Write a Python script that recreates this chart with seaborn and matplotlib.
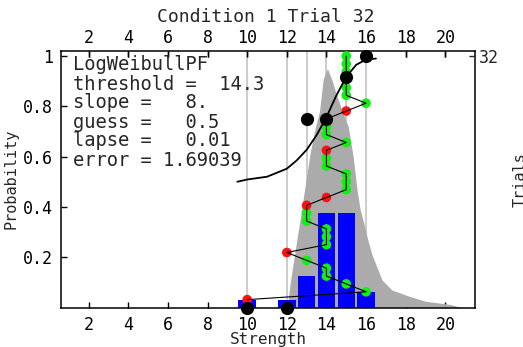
import numpy as np
import pandas as pd
import matplotlib
matplotlib.use("Agg")
import matplotlib.pyplot as plt
import seaborn as sns

# ---------------- data ----------------
title = "Condition 1 Trial 32"
n_trials = 32

# stimulus level and response for each trial (1 = correct)
trial_level = [10, 16, 15, 14, 14, 13, 12, 14, 14, 14, 13, 13, 13, 14, 15, 15,
               15, 14, 14, 14, 15, 14, 14, 14, 15, 16, 15, 15, 15, 15, 15, 15]
trial_correct = [0, 1, 1, 1, 1, 1, 0, 1, 1, 1, 1, 1, 0, 0, 1, 1,
                 1, 1, 1, 0, 1, 1, 1, 0, 0, 1, 1, 1, 1, 1, 1, 1]

# summary per tested level
levels = [10, 12, 13, 14, 15, 16]
counts = [1, 1, 4, 12, 12, 2]
prop_correct = [0.0, 0.0, 0.75, 0.75, 0.917, 1.0]

# fitted LogWeibull curve
fit_x = [9.5, 10, 11, 12, 12.5, 13, 13.5, 14, 14.5, 15, 15.5, 16, 16.5]
fit_y = [0.50, 0.509, 0.52, 0.552, 0.585, 0.627, 0.685, 0.757, 0.843, 0.917, 0.965, 0.986, 0.99]

# posterior over threshold (grey area)
post_x = [12.0, 12.07, 12.17, 12.42, 12.68, 12.93, 13.18, 13.45, 13.65, 13.84, 14.05,
          14.3, 14.45, 14.8, 15.1, 15.35, 15.54, 15.7, 15.87, 16.1, 16.3, 16.55,
          16.8, 17.3, 18.2, 19.0, 20.25, 20.8]
post_y = [0.0, 0.031, 0.097, 0.226, 0.355, 0.486, 0.615, 0.72, 0.78, 0.91, 0.95,
          0.90, 0.86, 0.78, 0.72, 0.60, 0.47, 0.39, 0.34, 0.265, 0.21, 0.16,
          0.11, 0.07, 0.044, 0.025, 0.012, 0.0]

vlines_x = [10, 12, 13, 14, 15, 16]

info_lines = ["LogWeibullPF", "threshold =  14.3", "slope =   8.",
              "guess =   0.5", "lapse =   0.01", "error = 1.69039"]

x_ticks = [2, 4, 6, 8, 10, 12, 14, 16, 18, 20]
y_ticks = [0.2, 0.4, 0.6, 0.8, 1.0]
y_ticklabels = ["0.2", "0.4", "0.6", "0.8", "1"]

# ---------------- style ----------------
sns.set_theme(style="ticks")
FONT = ["DejaVu Sans Mono", "DejaVu Sans"]
plt.rcParams["font.family"] = FONT
plt.rcParams["axes.linewidth"] = 1.1

W, H = 523, 347
fig = plt.figure(figsize=(W / 100, H / 100), dpi=100)
L, R, T, B = 61, 475, 51, 307.5
ax = fig.add_axes([L / W, 1 - B / H, (R - L) / W, (B - T) / H])
ax.set_xlim(0.6, 21.5)
ax.set_ylim(0, 1.02)

# vertical guide lines
for xv in vlines_x:
    ax.axvline(xv, color="#c4c4c4", lw=1.2, zorder=0.5)

# posterior
ax.fill_between(post_x, post_y, 0, color="#ababab", lw=0, zorder=1)

# trial count bars
bars = pd.DataFrame({"level": levels, "frac": np.array(counts) / n_trials})
sns.barplot(data=bars, x="level", y="frac", native_scale=True, width=0.88,
            color="#0000ff", saturation=1, linewidth=0, ax=ax, zorder=2)

# staircase trace
trials = pd.DataFrame({
    "level": trial_level,
    "y": np.arange(1, n_trials + 1) / n_trials,
    "resp": ["correct" if c else "wrong" for c in trial_correct],
})
sns.scatterplot(data=trials, x="level", y="y", hue="resp",
                palette={"correct": "#11f011", "wrong": "#ff1010"},
                s=48, linewidth=0, ax=ax, zorder=3, legend=False, clip_on=False)
ax.plot(trials["level"], trials["y"], color="black", lw=0.8, zorder=4)

# fitted curve
sns.lineplot(x=fit_x, y=fit_y, color="black", lw=1.3, ax=ax, zorder=4,
             estimator=None, sort=False)

# proportion correct
sns.scatterplot(x=levels, y=prop_correct, color="black", s=90, linewidth=0,
                ax=ax, zorder=5, clip_on=False)

ax.set_xlabel("")
ax.set_ylabel("")
ax.set_xticks(x_ticks)
ax.set_xticklabels([str(v) for v in x_ticks])
ax.set_yticks(y_ticks)
ax.set_yticklabels(y_ticklabels)
ax.tick_params(axis="both", which="both", direction="in", length=4, width=1,
               labelsize=12, top=True, labeltop=False, right=False, pad=6,
               colors="black")
for s in ax.spines.values():
    s.set_color("black")
    s.set_visible(True)

# top axis with its own label spacing
secx = ax.secondary_xaxis("top")
secx.set_xticks(x_ticks)
secx.set_xticklabels([str(v) for v in x_ticks])
secx.tick_params(direction="in", length=4, width=1, labelsize=12, pad=3,
                 colors="black")
secx.spines["top"].set_visible(False)

ax2 = ax.twinx()
ax2.set_ylim(0, n_trials * 1.02)
ax2.set_yticks([n_trials])
ax2.set_yticklabels([str(n_trials)])
ax2.tick_params(axis="y", direction="in", length=4, width=1, labelsize=12, pad=3)
for s in ax2.spines.values():
    s.set_visible(False)

# info text
for i, line in enumerate(info_lines):
    yp = 65 + 19 * i
    ax.text((73 - L) / (R - L), (B - yp) / (B - T), line, transform=ax.transAxes,
            fontsize=13.5, va="center", ha="left", zorder=6)

fig.text(266 / W, 1 - 17 / H, title, ha="center", va="center", fontsize=13)
fig.text(268 / W, 1 - 339.5 / H, "Strength", ha="center", va="center", fontsize=11.5)
fig.text(11 / W, 1 - 179 / H, "Probability", ha="center", va="center",
         rotation=90, fontsize=11)
fig.text(513 / W, 1 - 180 / H, "Trials", ha="left", va="center",
         rotation=90, fontsize=11)

fig.savefig("out.png", dpi=100, facecolor="white")
